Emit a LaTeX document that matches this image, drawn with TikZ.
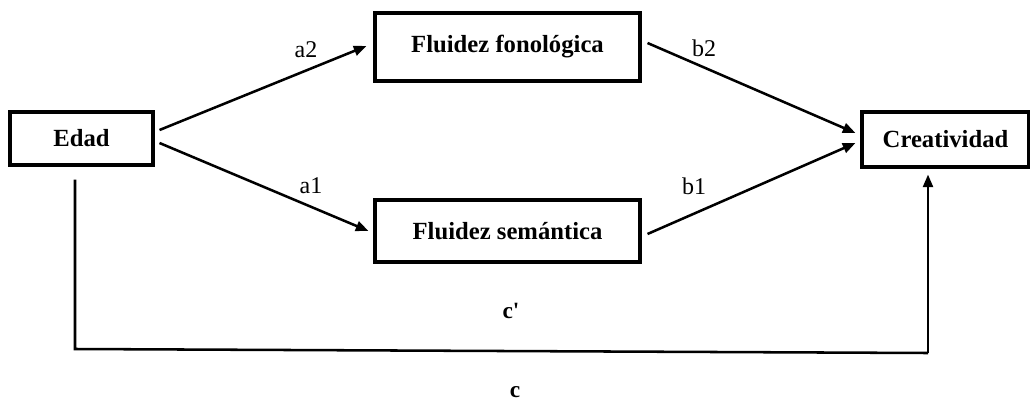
\documentclass[tikz,border=0pt]{standalone}
\usepackage{fontspec}
\setmainfont{Liberation Serif}
\newfontfamily\rawserif{Liberation Serif}[Ligatures=TeXOff]
\usetikzlibrary{arrows.meta,calc}
\begin{document}
\begin{tikzpicture}[x=0.75pt,y=-0.75pt,
  box/.style={draw,line width=2.3pt,inner sep=0pt,font=\fontsize{18.5}{22}\selectfont\bfseries},
  link/.style={line width=1.9pt,-{Triangle[length=9.5pt,width=7.5pt]}},
  plainline/.style={line width=1.9pt},
  lbl/.style={font=\fontsize{18}{21}\selectfont,inner sep=0pt},
  blbl/.style={font=\fontsize{17.5}{21}\selectfont\rawserif\bfseries,inner sep=0pt}]
\useasboundingbox (0,0) rectangle (1030,403);
\node[box,minimum width=107.25pt,minimum height=39.75pt] (edad) at (81.5,138.5) {Edad};
\node[box,minimum width=198.75pt,minimum height=51pt] (fon) at (507.5,47) {Fluidez fonológica};
\node[box,minimum width=198.75pt,minimum height=46.5pt] (sem) at (507.5,231) {Fluidez semántica};
\node[box,minimum width=125.25pt,minimum height=41.25pt] (cre) at (945.5,139.5) {Creatividad};
\coordinate (bl) at (75,349);
\coordinate (br) at (928,353);
\draw[link] ($(edad.east)+(5,-8.5)$) -- ($(fon.west)+(-7,-1)$);
\draw[link] ($(edad.east)+(5,4.5)$) -- ($(sem.west)+(-5,0)$);
\draw[link] ($(fon.east)+(6,-4)$) -- ($(cre.west)+(-5,-6.5)$);
\draw[link] ($(sem.east)+(6,3)$) -- ($(cre.west)+(-5,3.5)$);
\draw[plainline] ($(edad.south)+(-6.5,13)$) -- (bl) -- (br);
\draw[link] (br) -- ($(cre.south)+(-17.5,6)$);
\node[lbl] (la2) at (306,50) {a2};
\node[lbl] (la1) at (311,186) {a1};
\node[lbl] (lb2) at (704,48) {b2};
\node[lbl] (lb1) at (694,186) {b1};
\node[blbl] (lcp) at (511,311) {c'};
\node[blbl] (lc) at (515,392) {c};
\end{tikzpicture}
\end{document}
